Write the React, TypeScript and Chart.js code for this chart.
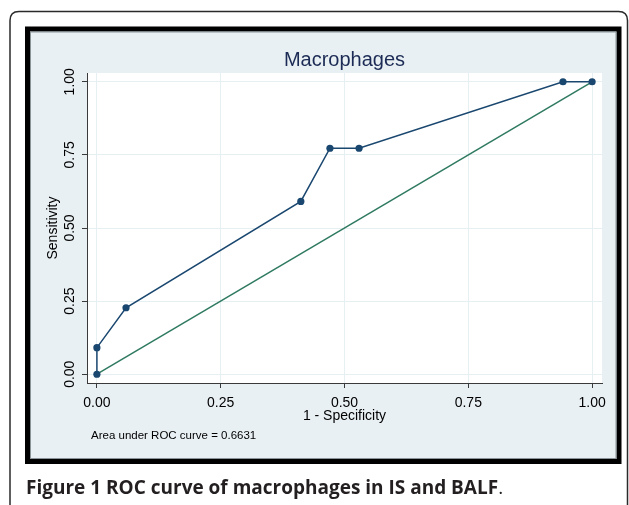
import React, { useEffect, useRef } from "react";
import { Chart, registerables } from "chart.js";

Chart.register(...registerables);

// ROC curve data (1 - specificity, sensitivity)
const fpr = [0, 0, 0.0588, 0.4118, 0.4706, 0.5294, 0.9412, 1];
const tpr = [0, 0.0909, 0.2273, 0.5909, 0.7727, 0.7727, 1, 1];
const refX = [0, 1];
const refY = [0, 1];
const xTicks = [0, 0.25, 0.5, 0.75, 1];
const yTicks = [0, 0.25, 0.5, 0.75, 1];

const chartTitle = "Macrophages";
const xTitle = "1 - Specificity";
const yTitle = "Sensitivity";
const noteText = "Area under ROC curve = 0.6631";
const captionBold = "Figure 1";
const captionSemi = " ROC curve of macrophages in IS and BALF";
const captionEnd = ".";

const FONT = "'Liberation Sans', Arial, Helvetica, sans-serif";
const CAP_FONT = "'Open Sans', 'Noto Sans', sans-serif";
const NAVY = "#1a476f";
const GREEN = "#2f7a60";
const PANEL = "#e9f0f3";
const GRID = "#e6eff2";
const AXIS = "#3a3a3a";

function roundRect(ctx: CanvasRenderingContext2D, x: number, y: number, w: number, h: number, r: number) {
  ctx.beginPath();
  ctx.moveTo(x + r, y);
  ctx.lineTo(x + w - r, y);
  ctx.quadraticCurveTo(x + w, y, x + w, y + r);
  ctx.lineTo(x + w, y + h - r);
  ctx.quadraticCurveTo(x + w, y + h, x + w - r, y + h);
  ctx.lineTo(x + r, y + h);
  ctx.quadraticCurveTo(x, y + h, x, y + h - r);
  ctx.lineTo(x, y + r);
  ctx.quadraticCurveTo(x, y, x + r, y);
  ctx.closePath();
}

const framePlugin = {
  id: "frame",
  beforeDraw(chart: any) {
    const ctx: CanvasRenderingContext2D = chart.ctx;
    const ca = chart.chartArea;
    ctx.save();
    ctx.fillStyle = "#ffffff";
    ctx.fillRect(0, 0, chart.width, chart.height);
    // outer rounded frame
    ctx.strokeStyle = "#2a2a2a";
    ctx.lineWidth = 1.5;
    roundRect(ctx, 10, 11.5, 617.5, 505, 9);
    ctx.stroke();
    // graph panel
    ctx.fillStyle = PANEL;
    ctx.fillRect(27.5, 29, 591.5, 432.5);
    ctx.strokeStyle = "#000000";
    ctx.lineWidth = 5;
    ctx.strokeRect(27.5, 29, 591.5, 432.5);
    ctx.strokeStyle = "#8a9499";
    ctx.lineWidth = 1;
    ctx.strokeRect(30.5, 32, 585.5, 426.5);
    // plot region
    ctx.fillStyle = "#ffffff";
    ctx.fillRect(ca.left, ca.top, ca.right - ca.left, ca.bottom - ca.top);
    ctx.restore();
  },
  afterDraw(chart: any) {
    const ctx: CanvasRenderingContext2D = chart.ctx;
    const ca = chart.chartArea;
    ctx.save();
    // title
    ctx.fillStyle = "#1c2b55";
    ctx.font = `20px ${FONT}`;
    ctx.textAlign = "center";
    ctx.textBaseline = "alphabetic";
    ctx.fillText(chartTitle, (ca.left + ca.right) / 2, 66);
    // note
    ctx.fillStyle = "#000000";
    ctx.font = `11.5px ${FONT}`;
    ctx.textAlign = "left";
    ctx.fillText(noteText, 91, 439);
    // caption
    let x = 26;
    const y = 494;
    ctx.fillStyle = "#231f20";
    ctx.font = `700 19px ${CAP_FONT}`;
    ctx.fillText(captionBold, x, y);
    x += ctx.measureText(captionBold).width;
    ctx.fillText(captionSemi, x, y);
    x += ctx.measureText(captionSemi).width;
    ctx.font = `400 19px ${CAP_FONT}`;
    ctx.fillText(captionEnd, x, y);
    ctx.restore();
  },
};

export default function App() {
  const ref = useRef<HTMLCanvasElement | null>(null);
  useEffect(() => {
    if (!ref.current) return;
    const rocData = fpr.map((v, i) => ({ x: v, y: tpr[i] }));
    const diagData = refX.map((v, i) => ({ x: v, y: refY[i] }));
    const chart = new Chart(ref.current, {
      type: "line",
      data: {
        datasets: [
          {
            label: "ROC",
            data: rocData,
            borderColor: NAVY,
            backgroundColor: NAVY,
            pointBackgroundColor: NAVY,
            pointBorderColor: NAVY,
            pointRadius: 3.6,
            pointBorderWidth: 0,
            borderWidth: 1.5,
            tension: 0,
            fill: false,
          },
          {
            label: "Reference",
            data: diagData,
            borderColor: GREEN,
            backgroundColor: GREEN,
            pointRadius: 0,
            borderWidth: 1.5,
            tension: 0,
            fill: false,
          },
        ],
      },
      options: {
        animation: false,
        responsive: false,
        devicePixelRatio: window.devicePixelRatio || 1,
        layout: { padding: { left: 40, right: 27, top: 73, bottom: 80 } },
        plugins: {
          legend: { display: false },
          tooltip: { enabled: false },
          title: { display: false },
        },
        scales: {
          x: {
            type: "linear",
            min: -0.02,
            max: 1.02,
            afterBuildTicks: (scale: any) => {
              scale.ticks = xTicks.map((v) => ({ value: v }));
            },
            afterFit: (scale: any) => {
              scale.height = 42;
            },
            ticks: {
              callback: (v: any) => Number(v).toFixed(2),
              font: { family: FONT, size: 14 },
              color: "#000000",
              padding: 7,
              maxRotation: 0,
              minRotation: 0,
            },
            grid: {
              color: GRID,
              lineWidth: 1,
              drawTicks: true,
              tickLength: 5,
              tickColor: AXIS,
              tickWidth: 1,
            },
            border: { display: true, color: AXIS, width: 1 },
            title: {
              display: true,
              text: xTitle,
              font: { family: FONT, size: 14 },
              color: "#000000",
              padding: { top: 0, bottom: 0 },
            },
          },
          y: {
            type: "linear",
            min: -0.03,
            max: 1.03,
            afterBuildTicks: (scale: any) => {
              scale.ticks = yTicks.map((v) => ({ value: v }));
            },
            afterFit: (scale: any) => {
              scale.width = 47;
            },
            ticks: {
              callback: (v: any) => Number(v).toFixed(2),
              font: { family: FONT, size: 14 },
              color: "#000000",
              padding: -2,
              minRotation: 90,
              maxRotation: 90,
              crossAlign: "center",
            },
            grid: {
              color: GRID,
              lineWidth: 1,
              drawTicks: true,
              tickLength: 5,
              tickColor: AXIS,
              tickWidth: 1,
            },
            border: { display: true, color: AXIS, width: 1 },
            title: {
              display: true,
              text: yTitle,
              font: { family: FONT, size: 14 },
              color: "#000000",
              padding: { top: 5, bottom: 0 },
            },
          },
        },
      } as any,
      plugins: [framePlugin],
    });
    return () => chart.destroy();
  }, []);
  return (
    <div style={{ position: "absolute", left: 0, top: 0, width: 629, height: 505 }}>
      <canvas ref={ref} width={629} height={505} style={{ display: "block", width: 629, height: 505 }} />
    </div>
  );
}
